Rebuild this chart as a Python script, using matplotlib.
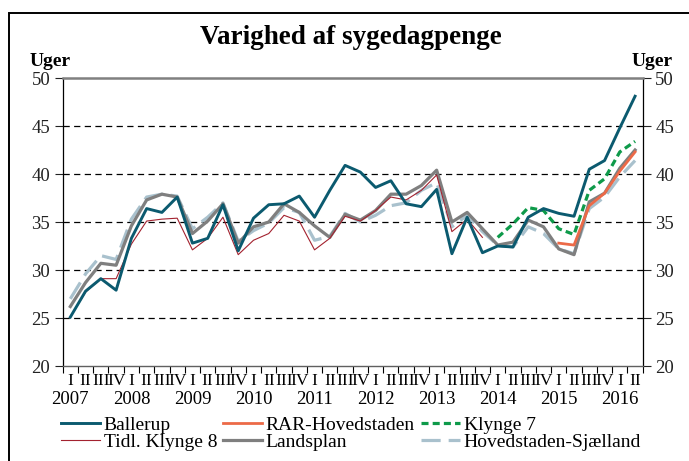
import numpy as np
import matplotlib
matplotlib.use("Agg")
import matplotlib.pyplot as plt
from matplotlib.patches import Rectangle

# ---------------------------------------------------------------------------
# Data: average duration of sickness benefit (weeks), quarterly 2007Q1-2016Q2
# ---------------------------------------------------------------------------
years = list(range(2007, 2017))
quarter_labels = ["I", "II", "III", "IV"] * 9 + ["I", "II"]

ballerup = [25.1, 27.8, 29.1, 27.9, 33.3, 36.4, 36.0, 37.6, 32.8, 33.3,
            36.8, 32.0, 35.4, 36.8, 36.9, 37.7, 35.5, 38.3, 40.9, 40.2,
            38.6, 39.3, 36.9, 36.6, 38.4, 31.7, 35.5, 31.8, 32.5, 32.4,
            35.5, 36.4, 35.9, 35.6, 40.5, 41.4, 44.8, 48.1]
rar_hovedstaden = [None] * 32 + [32.8, 32.6, 36.7, 38.0, 40.3, 42.3]
klynge7 = [None] * 28 + [33.4, 34.8, 36.5, 36.2, 34.3, 33.7, 38.3, 39.5,
                         42.3, 43.4]
tidl_klynge8 = [25.1, 27.7, 29.1, 29.1, 32.7, 35.1, 35.3, 35.4, 32.1, 33.3,
                35.5, 31.6, 33.1, 33.8, 35.7, 35.1, 32.1, 33.3, 35.6, 35.1,
                36.2, 37.6, 37.3, 38.3, 39.9, 34.0, 35.3, 33.4] + [None] * 10
landsplan = [26.2, 28.7, 30.7, 30.5, 34.6, 37.3, 37.9, 37.6, 33.8, 35.1,
             36.9, 32.8, 34.5, 35.0, 36.9, 36.0, 34.6, 33.4, 35.8, 35.2,
             36.2, 37.9, 37.9, 38.8, 40.4, 35.0, 36.0, 34.3, 32.6, 32.9,
             35.2, 34.5, 32.2, 31.6, 37.1, 38.0, 40.6, 42.5]
hovedstaden_sjaelland = [27.0, 29.6, 31.5, 31.1, 35.3, 37.6, 37.9, 37.7, 34.3,
                         35.5, 37.0, 33.0, 34.1, 34.9, 36.5, 36.0, 33.1, 33.5,
                         35.9, 35.0, 35.7, 36.7, 37.0, 38.3, 39.1, 34.5, 35.7,
                         34.0, 32.6, 32.4, 34.5, 33.8, 32.2, 31.7, 36.4, 37.6,
                         39.7, 41.4]


def arr(values):
    return np.array([np.nan if v is None else v for v in values], dtype=float)


SERIF = ["Liberation Serif", "DejaVu Serif"]
plt.rcParams["font.family"] = SERIF

fig = plt.figure(figsize=(6.89, 4.61), dpi=100)
ax = fig.add_axes([0.091, 0.206, 0.8418, 0.6248])

x = np.arange(len(quarter_labels))

ax.plot(x, arr(hovedstaden_sjaelland), color="#a9c1cd", lw=2.3,
        dashes=(6, 2.5), label="Hovedstaden-Sjælland", zorder=2)
ax.plot(x, arr(landsplan), color="#7f7f7f", lw=2.3, label="Landsplan", zorder=3)
ax.plot(x, arr(tidl_klynge8), color="#a3222f", lw=0.8, label="Tidl. Klynge 8",
        zorder=4)
ax.plot(x, arr(rar_hovedstaden), color="#ec6a48", lw=2.0,
        label="RAR-Hovedstaden", zorder=4)
ax.plot(x, arr(klynge7), color="#0e9a4a", lw=2.3, dashes=(2.2, 1.3),
        label="Klynge 7", zorder=5)
ax.plot(x, arr(ballerup), color="#0b5a6f", lw=2.1, label="Ballerup", zorder=6)

# axes, grid and ticks
ax.set_xlim(-0.5, len(x) - 0.5)
ax.set_ylim(20, 50)
ax.set_yticks(range(20, 51, 5))
for yv in range(25, 50, 5):
    ax.axhline(yv, color="black", lw=0.9, dashes=(5, 3.5), zorder=1)

ax.spines["top"].set_color("#808080")
ax.spines["top"].set_linewidth(1.8)
ax.spines["bottom"].set_color("#606060")
ax.spines["bottom"].set_linewidth(1.0)
for side in ("left", "right"):
    ax.spines[side].set_color("black")
    ax.spines[side].set_linewidth(0.9)

ax.tick_params(axis="y", which="both", direction="out", length=6, width=0.8,
               left=True, right=True, labelleft=True, labelright=True,
               labelsize=13.5, pad=3, colors="#222222")

ax.set_xticks(x)
ax.set_xticklabels(quarter_labels, fontsize=12.5)
ax.set_xticks(np.arange(-0.5, len(x), 1.0), minor=True)
ax.tick_params(axis="x", which="major", length=0, pad=5)
ax.tick_params(axis="x", which="minor", length=5, width=0.8, direction="out")

for k, yr in enumerate(years):
    ax.text(4 * k, -0.088, str(yr), transform=ax.get_xaxis_transform(),
            ha="center", va="top", fontsize=13.5)

# unit labels and title
fig.text(30 / 689, 1 - 61 / 461, "Uger", fontsize=14, fontweight="bold",
         ha="left", va="center")
fig.text(673 / 689, 1 - 61 / 461, "Uger", fontsize=14, fontweight="bold",
         ha="right", va="center")
fig.text(351 / 689, 1 - 38 / 461, "Varighed af sygedagpenge", fontsize=19.5,
         fontweight="bold", ha="center", va="center")

# legend, filled column-wise so rows read as in the original
handles, labels = ax.get_legend_handles_labels()
order = ["Ballerup", "Tidl. Klynge 8", "RAR-Hovedstaden", "Landsplan",
         "Klynge 7", "Hovedstaden-Sjælland"]
hmap = dict(zip(labels, handles))
fig.legend([hmap[l] for l in order], order, ncol=3, frameon=False,
           fontsize=14, loc="upper left",
           bbox_to_anchor=(61 / 689, 1 - 416 / 461),
           handlelength=2.0, handletextpad=0.2, columnspacing=0.3,
           labelspacing=0.0, borderaxespad=0, borderpad=0)

# outer frame (cut off at right and bottom in the original)
fig.patches.append(Rectangle((9 / 689, -0.05), 1.0, 1 - 13 / 461 + 0.05,
                             transform=fig.transFigure, fill=False,
                             ec="black", lw=1.4))

fig.savefig("out.png", dpi=100)
